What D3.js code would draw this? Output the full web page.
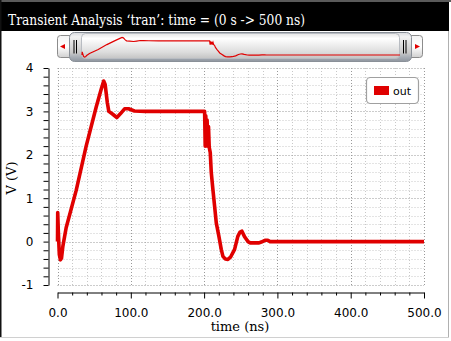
<!DOCTYPE html>
<html lang="en">
<head>
  <meta charset="utf-8">
  <title>Transient Analysis 'tran'</title>
  <script src="https://d3js.org/d3.v7.min.js"></script>
  <style>
    body { margin: 0; background: #fff; }
    svg { display: block; }
    .grid line { stroke-dasharray: 1, 2; }
    .grid .minor { stroke: #c8c8c8; }
    .grid .major { stroke: #999; }
    .axis path, .axis line { stroke: #000; }
    .axis text { font-family: "DejaVu Sans", sans-serif; font-size: 12px; fill: #000; }
    .title { font-family: "DejaVu Serif", serif; }
  </style>
</head>
<body>
<svg width="451" height="341"></svg>
<script>
  // out (V) vs time (ns)
  var timeNs = [0, 0.3, 1.2, 2.5, 4, 5.5, 7.3, 11.8, 25.5, 39.1, 52.8, 59.6, 63, 65, 68, 70,
    75, 81, 86, 91.5, 97, 105, 120, 200.7, 201.5, 202.3, 203.2, 204.1, 205, 206, 207,
    208.4, 209.8, 212, 214.3, 216.6, 220.2, 223.4, 225.7, 229, 232.5, 236, 241.6, 246,
    249, 251.6, 255, 259.8, 263, 275, 278, 283, 287, 290, 500];
  var outV = [0, 0.67, 0.2, -0.3, -0.42, -0.38, -0.11, 0.32, 1.18, 2.2, 3.1, 3.51, 3.70, 3.62, 3.2, 3.0,
    2.94, 2.86, 2.95, 3.06, 3.06, 3.01, 3.0, 3.0, 2.2, 2.9, 2.25, 2.8, 2.2, 2.65, 2.17,
    2.05, 1.59, 1.2, 0.82, 0.43, 0.12, -0.18, -0.34, -0.40, -0.41, -0.36, -0.18, 0.12,
    0.22, 0.24, 0.12, 0.0, -0.03, -0.03, -0.01, 0.03, 0.03, 0.0, 0.0];

  var xTickLabels = [0, 100, 200, 300, 400, 500];
  var yTickLabels = [-1, 0, 1, 2, 3, 4];
  var seriesName = "out";
  var titleText = "Transient Analysis \u2018tran\u2019: time = (0 s -> 500 ns)";

  var data = timeNs.map(function (t, i) { return { t: t, v: outV[i] }; });

  var svg = d3.select("svg");
  var red = "#e00000";

  // window frame
  svg.append("rect").attr("x", 0).attr("y", 0).attr("width", 451).attr("height", 2).attr("fill", "#5a5a5a");
  svg.append("rect").attr("x", 0).attr("y", 2).attr("width", 449).attr("height", 29).attr("fill", "#000");
  svg.append("rect").attr("x", 0).attr("y", 0).attr("width", 1.5).attr("height", 338).attr("fill", "#111");
  svg.append("line").attr("x1", 448.5).attr("x2", 448.5).attr("y1", 31).attr("y2", 338).attr("stroke", "#b0b0b0");
  svg.append("line").attr("x1", 0).attr("x2", 449).attr("y1", 337.5).attr("y2", 337.5).attr("stroke", "#d0d0d0");

  svg.append("text").attr("class", "title")
    .attr("x", 8).attr("y", 25)
    .attr("fill", "#fff").attr("font-size", 14)
    .attr("textLength", 297).attr("lengthAdjust", "spacingAndGlyphs")
    .text(titleText);

  // gradients for the overview slider
  var defs = svg.append("defs");
  function vgrad(id, stops) {
    var g = defs.append("linearGradient").attr("id", id).attr("x1", 0).attr("y1", 0).attr("x2", 0).attr("y2", 1);
    stops.forEach(function (s) { g.append("stop").attr("offset", s[0]).attr("stop-color", s[1]); });
  }
  vgrad("track", [[0, "#f4f4f4"], [0.5, "#ffffff"], [1, "#d0d0d0"]]);
  vgrad("thumb", [[0, "#d8dade"], [0.15, "#f2f2f2"], [0.7, "#c8c8c8"], [0.85, "#a8aeb6"], [1, "#8e959e"]]);
  vgrad("body", [[0, "#e6e6e6"], [0.2, "#ffffff"], [0.75, "#dcdcdc"], [1, "#c4c4c4"]]);

  // overview slider
  svg.append("rect").attr("x", 57.5).attr("y", 35.5).attr("width", 365).attr("height", 22).attr("rx", 3)
    .attr("fill", "url(#track)").attr("stroke", "#8c8c8c");
  svg.append("path").attr("d", "M60,46.5L65,44L65,49Z").attr("fill", red);
  svg.append("path").attr("d", "M420,46.5L415,44L415,49Z").attr("fill", red);

  svg.append("rect").attr("x", 69.5).attr("y", 32.5).attr("width", 342).attr("height", 29).attr("rx", 5)
    .attr("fill", "url(#thumb)").attr("stroke", "#8a9098");
  svg.append("rect").attr("x", 81.5).attr("y", 33.5).attr("width", 318).attr("height", 25).attr("rx", 4)
    .attr("fill", "url(#body)").attr("stroke", "#b8bcc2");
  [74, 76.5, 403.5, 406].forEach(function (gx) {
    svg.append("line").attr("x1", gx).attr("x2", gx).attr("y1", 40).attr("y2", 53.5)
      .attr("stroke", "#000").attr("stroke-width", 1);
  });

  var xm = d3.scaleLinear().domain([0, 500]).range([82, 400]);
  var ym = d3.scaleLinear().domain([-0.42, 3.7]).range([57, 37.5]);
  svg.append("path").datum(data)
    .attr("fill", "none").attr("stroke", red).attr("stroke-width", 1.2)
    .attr("d", d3.line().x(function (d) { return xm(d.t); }).y(function (d) { return ym(d.v); }));

  // main plot
  var x = d3.scaleLinear().domain([0, 500]).range([57.5, 424]);
  var y = d3.scaleLinear().domain([-1, 4]).range([285, 68]);

  var grid = svg.append("g").attr("class", "grid");
  var vTicks = d3.range(0, 501, 20);
  var hTicks = d3.range(0, 26).map(function (i) { return -1 + i * 0.2; });
  grid.selectAll(".gv").data(vTicks).enter().append("line")
    .attr("class", function (d) { return d % 100 === 0 ? "major" : "minor"; })
    .attr("x1", function (d) { return Math.round(x(d)) + 0.5; })
    .attr("x2", function (d) { return Math.round(x(d)) + 0.5; })
    .attr("y1", y(4)).attr("y2", y(-1));
  grid.selectAll(".gh").data(hTicks).enter().append("line")
    .attr("class", function (d) { return Math.abs(d - Math.round(d)) < 1e-6 ? "major" : "minor"; })
    .attr("x1", x(0)).attr("x2", x(500))
    .attr("y1", function (d) { return Math.round(y(d)) + 0.5; })
    .attr("y2", function (d) { return Math.round(y(d)) + 0.5; });

  // y axis
  svg.append("g").attr("class", "axis").attr("transform", "translate(48.5,0)")
    .call(d3.axisLeft(y).tickValues(hTicks).tickSize(5).tickSizeOuter(0).tickPadding(10)
      .tickFormat(function (d) {
        var r = Math.round(d);
        return Math.abs(d - r) < 1e-6 && yTickLabels.indexOf(r) >= 0 ? String(r) : "";
      }));

  // x axis
  var xAxis = svg.append("g").attr("class", "axis").attr("transform", "translate(0,292.5)")
    .call(d3.axisBottom(x).tickValues(vTicks).tickSize(3).tickSizeOuter(0)
      .tickFormat(function (d) { return xTickLabels.indexOf(d) >= 0 ? d3.format(".1f")(d) : ""; }));
  xAxis.selectAll(".tick line").attr("y2", function (d) { return d % 100 === 0 ? 6 : 3; });
  xAxis.selectAll(".tick text").attr("y", 24.5).attr("dy", 0);

  svg.append("text").attr("class", "title")
    .attr("x", 240).attr("y", 331).attr("text-anchor", "middle").attr("font-size", 13)
    .text("time (ns)");
  svg.append("text").attr("class", "title")
    .attr("transform", "translate(16,178) rotate(-90)").attr("text-anchor", "middle").attr("font-size", 13)
    .text("V (V)");

  // waveform
  svg.append("path").datum(data)
    .attr("fill", "none").attr("stroke", red).attr("stroke-width", 3.6)
    .attr("stroke-linejoin", "round")
    .attr("d", d3.line().x(function (d) { return x(d.t); }).y(function (d) { return y(d.v); }));

  // legend
  var legend = svg.append("g");
  legend.append("rect").attr("x", 366.5).attr("y", 77.5).attr("width", 52).attr("height", 26).attr("rx", 4)
    .attr("fill", "#fff").attr("stroke", "#a0a0a0").attr("stroke-width", 1.2);
  legend.append("rect").attr("x", 374).attr("y", 86).attr("width", 15).attr("height", 9).attr("fill", red);
  legend.append("text").attr("x", 393).attr("y", 95)
    .attr("font-family", "DejaVu Sans, sans-serif").attr("font-size", 11)
    .text(seriesName);
</script>
</body>
</html>
